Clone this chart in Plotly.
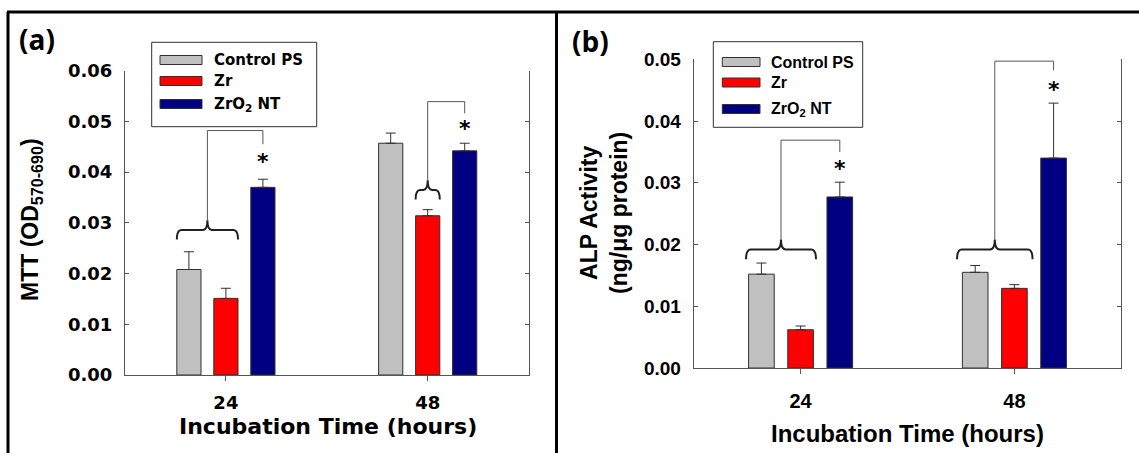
import plotly.graph_objects as go

# ---------------- data ----------------
hours = ["24", "48"]
series_names = ["Control PS", "Zr", "ZrO<sub>2</sub> NT"]
series_colors = ["#c0c0c0", "#ff0000", "#000080"]

# MTT (OD 570-690)
mtt_control = [0.0208, 0.0457]
mtt_zr = [0.0151, 0.0314]
mtt_zro2 = [0.0370, 0.0442]
mtt_control_err = [0.0035, 0.0020]
mtt_zr_err = [0.0020, 0.0012]
mtt_zro2_err = [0.0016, 0.0015]

# ALP activity (ng/ug protein)
alp_control = [0.0152, 0.0155]
alp_zr = [0.0062, 0.0129]
alp_zro2 = [0.0277, 0.0340]
alp_control_err = [0.0018, 0.0011]
alp_zr_err = [0.0006, 0.0006]
alp_zro2_err = [0.0024, 0.0089]

# significance brackets: (group, first bar, last bar, target bar,
#                         brace level, top level, drop end, star level, pad)
mtt_brackets = [
    (0, 0, 1, 2, 0.0286, 0.0482, 0.0455, 0.0420, 0.0),
    (1, 1, 1, 2, 0.0365, 0.0539, 0.0516, 0.0486, 0.0),
]
alp_brackets = [
    (0, 0, 1, 2, 0.0192, 0.0369, 0.0350, 0.0323, 0.012),
    (1, 0, 1, 2, 0.0192, 0.0497, 0.0482, 0.0451, 0.025),
]

# ---------------- geometry ----------------
W, H = 1139, 453
BARGAP = 0.45
BARGROUPGAP = 0.346
N_SERIES = 3
SLOT = (1 - BARGAP) / N_SERIES
BAR_W = SLOT * (1 - BARGROUPGAP)


def px(x):
    return x / W


def py(y):
    return 1 - y / H


def bar_center(group, idx):
    return group + (idx - (N_SERIES - 1) / 2) * SLOT


FONT_A = "DejaVu Sans"
FONT_B = "Liberation Sans, Arial"

fig = go.Figure()

panels = [
    dict(x="x", y="y", means=[mtt_control, mtt_zr, mtt_zro2],
         errs=[mtt_control_err, mtt_zr_err, mtt_zro2_err],
         brackets=mtt_brackets, tip=0.0019),
    dict(x="x2", y="y2", means=[alp_control, alp_zr, alp_zro2],
         errs=[alp_control_err, alp_zr_err, alp_zro2_err],
         brackets=alp_brackets, tip=0.0016),
]

for p in panels:
    for name, color, vals, err in zip(series_names, series_colors, p["means"], p["errs"]):
        fig.add_trace(go.Bar(
            x=[0, 1], y=vals, name=name, xaxis=p["x"], yaxis=p["y"],
            marker=dict(color=color, line=dict(color="#303030", width=1)),
            error_y=dict(type="data", array=err, arrayminus=[0] * len(err),
                         symmetric=False, color="#303030", thickness=1, width=5),
            showlegend=False,
        ))

shapes = []
annotations = []

# significance braces, connectors and stars
for p in panels:
    xr, yr = p["x"], p["y"]
    tip = p["tip"]
    for g, b0, b1, bt, lvl, top, end, star, pad in p["brackets"]:
        x0 = bar_center(g, b0) - BAR_W / 2 - pad
        x1 = bar_center(g, b1) + BAR_W / 2 + pad
        xm = (x0 + x1) / 2
        r = 0.022
        brace = (f"M {x0},{lvl - tip} Q {x0},{lvl} {x0 + r},{lvl} "
                 f"L {xm - r},{lvl} Q {xm},{lvl} {xm},{lvl + tip} "
                 f"Q {xm},{lvl} {xm + r},{lvl} L {x1 - r},{lvl} "
                 f"Q {x1},{lvl} {x1},{lvl - tip}")
        shapes.append(dict(type="path", path=brace, xref=xr, yref=yr,
                           line=dict(color="#202020", width=2)))
        xt = bar_center(g, bt)
        conn = f"M {xm},{lvl + tip} L {xm},{top} L {xt},{top} L {xt},{end}"
        shapes.append(dict(type="path", path=conn, xref=xr, yref=yr,
                           line=dict(color="#555555", width=1)))
        annotations.append(dict(x=xt, y=star, xref=xr, yref=yr, text="*",
                                showarrow=False, xanchor="center", yanchor="middle",
                                font=dict(family=FONT_A, size=22, color="black",
                                          weight="bold")))

# outer frame lines
frame = dict(color="black", width=3)
shapes.append(dict(type="line", xref="paper", yref="paper",
                   x0=px(7), x1=1, y0=py(12), y1=py(12), line=frame))
shapes.append(dict(type="line", xref="paper", yref="paper",
                   x0=px(8), x1=px(8), y0=py(12), y1=0, line=frame))
shapes.append(dict(type="line", xref="paper", yref="paper",
                   x0=px(556.5), x1=px(556.5), y0=py(12), y1=0, line=frame))

# hand-built legends with wide bar swatches
legends = [
    dict(box=(151.7, 42.3, 316.7, 126.7), sw=(160, 202), rows=[60, 81, 104],
         tx=211.7, font=FONT_A, size=15),
    dict(box=(713.3, 41.7, 862.7, 127.3), sw=(722.3, 760), rows=[62, 82.5, 109],
         tx=769.3, font=FONT_B, size=16),
]
for lg in legends:
    bx0, by0, bx1, by1 = lg["box"]
    shapes.append(dict(type="rect", xref="paper", yref="paper",
                       x0=px(bx0), x1=px(bx1), y0=py(by1), y1=py(by0),
                       line=dict(color="#303030", width=1), fillcolor="white"))
    for name, color, ry in zip(series_names, series_colors, lg["rows"]):
        shapes.append(dict(type="rect", xref="paper", yref="paper",
                           x0=px(lg["sw"][0]), x1=px(lg["sw"][1]),
                           y0=py(ry + 4.5), y1=py(ry - 4.5),
                           line=dict(color="#303030", width=1), fillcolor=color))
        annotations.append(dict(x=px(lg["tx"]), y=py(ry), xref="paper", yref="paper",
                                text=name, showarrow=False, xanchor="left",
                                yanchor="middle",
                                font=dict(family=lg["font"], size=lg["size"],
                                          color="black", weight="bold")))

# panel letters
annotations.append(dict(x=px(37), y=py(39), xref="paper", yref="paper", text="(a)",
                        showarrow=False, xanchor="center", yanchor="middle",
                        font=dict(family="Open Sans", size=28, color="black",
                                  weight="bold")))
annotations.append(dict(x=px(590), y=py(41), xref="paper", yref="paper", text="(b)",
                        showarrow=False, xanchor="center", yanchor="middle",
                        font=dict(family="Open Sans", size=28, color="black",
                                  weight="bold")))

# axis titles
annotations.append(dict(x=px(31), y=py(220), xref="paper", yref="paper",
                        text="MTT (OD<sub>570-690</sub>)", textangle=-90,
                        showarrow=False, xanchor="center", yanchor="middle",
                        font=dict(family=FONT_B, size=23, color="black",
                                  weight="bold")))
annotations.append(dict(x=px(328), y=py(426), xref="paper", yref="paper",
                        text="Incubation Time (hours)", showarrow=False,
                        xanchor="center", yanchor="middle",
                        font=dict(family=FONT_A, size=22, color="black",
                                  weight="bold")))
annotations.append(dict(x=px(604), y=py(213), xref="paper", yref="paper",
                        text="ALP Activity<br>(ng/\u03bcg protein)", textangle=-90,
                        showarrow=False, xanchor="center", yanchor="middle",
                        font=dict(family=FONT_B, size=23, color="black",
                                  weight="bold")))
annotations.append(dict(x=px(907), y=py(433), xref="paper", yref="paper",
                        text="Incubation Time (hours)", showarrow=False,
                        xanchor="center", yanchor="middle",
                        font=dict(family=FONT_B, size=24, color="black",
                                  weight="bold")))

axis_line = dict(showline=True, linecolor="#555555", linewidth=1,
                 showgrid=False, zeroline=False, automargin=False)

fig.update_layout(
    width=W, height=H,
    margin=dict(l=0, r=0, t=0, b=0, autoexpand=False),
    paper_bgcolor="white", plot_bgcolor="white",
    barmode="group", bargap=BARGAP, bargroupgap=BARGROUPGAP,
    showlegend=False,
    xaxis=dict(domain=[px(125), px(528.6)], anchor="y", range=[-0.5, 1.5],
               tickvals=[0, 1], ticktext=hours, ticks="outside", ticklen=5,
               tickcolor="#555555", ticklabelstandoff=6,
               tickfont=dict(family=FONT_A, size=18, color="black", weight="bold"),
               **axis_line),
    yaxis=dict(domain=[py(375), py(70.7)], anchor="x", range=[0, 0.06],
               dtick=0.01, tickformat=".2f", ticks="inside", ticklen=4,
               tickcolor="#555555", mirror="ticks", ticklabelstandoff=8,
               tickfont=dict(family=FONT_A, size=18, color="black", weight="bold"),
               **axis_line),
    xaxis2=dict(domain=[px(693.7), px(1121.3)], anchor="y2", range=[-0.5, 1.5],
                tickvals=[0, 1], ticktext=hours, ticks="outside", ticklen=5,
                tickcolor="#555555", ticklabelstandoff=10,
                tickfont=dict(family=FONT_B, size=20, color="black", weight="bold"),
                **axis_line),
    yaxis2=dict(domain=[py(368), py(59.3)], anchor="x2", range=[0, 0.05],
                dtick=0.01, tickformat=".2f", ticks="inside", ticklen=4,
                tickcolor="#555555", mirror="ticks", ticklabelstandoff=8,
                tickfont=dict(family=FONT_B, size=19, color="black", weight="bold"),
                **axis_line),
    shapes=shapes,
    annotations=annotations,
)

fig.write_html("out.html")
